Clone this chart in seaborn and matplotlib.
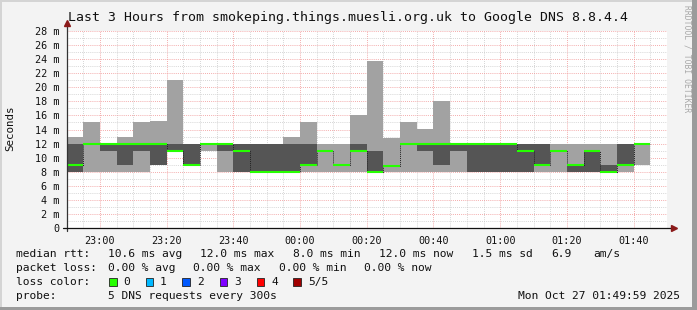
import numpy as np
import pandas as pd
import seaborn as sns
import matplotlib
matplotlib.use("Agg")
import matplotlib.pyplot as plt
from matplotlib.patches import Rectangle

# ---- data (ms), one entry per 5-minute step starting 22:50 ----
ping_min = [8, 8, 8, 8, 8, 9, 11, 9, 11, 8,
            8, 8, 8, 8, 8, 8, 8, 8, 8, 8,
            8, 8, 8, 8, 8, 8, 8, 8, 8, 8,
            8, 8, 8, 8, 9]
ping_lo = [8, 12, 11, 9, 11, 9, 11, 9, 12, 11,
           8, 8, 8, 8, 9, 11, 9, 11, 8, 8.8,
           12, 11, 9, 11, 8, 8, 8, 8, 9, 11,
           8, 8, 8, 9, 12]
median = [9, 12, 12, 12, 12, 12, 11, 9, 12, 12,
          11, 8, 8, 8, 9, 11, 9, 11, 8, 8.8,
          12, 12, 12, 12, 12, 12, 12, 11, 9, 11,
          9, 11, 8, 9, 12]
ping_hi = [12, 12, 12, 12, 12, 12, 12, 12, 12, 12,
           12, 12, 12, 12, 12, 11, 9, 12, 11, 8.8,
           12, 12, 12, 12, 12, 12, 12, 12, 12, 11,
           9, 11, 9, 12, 12]
ping_max = [13, 15, 12, 13, 15, 15.2, 21, 12, 12, 12,
            12, 12, 12, 13, 15, 12, 12, 16, 23.8, 12.8,
            15, 14.1, 18, 12, 12, 12, 12, 12, 12, 12,
            12, 12, 12, 12, 12]
tick_labels = ["23:00", "23:20", "23:40", "00:00", "00:20",
               "00:40", "01:00", "01:20", "01:40"]
loss_labels = ["0", "1", "2", "3", "4", "5/5"]
loss_colors = ["#26ff00", "#00b8ff", "#0059ff", "#7e00ff", "#ff0000", "#a00000"]

step_min = 5
df = pd.DataFrame({"start": np.arange(len(median)) * step_min,
                   "pmin": ping_min, "plo": ping_lo, "med": median,
                   "phi": ping_hi, "pmax": ping_max})

sns.set_style("white")
plt.rcParams["font.family"] = ["DejaVu Sans Mono"]

W, H = 697, 310
fig = plt.figure(figsize=(W / 100, H / 100), dpi=100)
fig.patch.set_facecolor("#f3f3f3")

def fx(px):
    return px / W

def fy(py):
    return 1 - py / H

left, right, top, bottom = 66.5, 667, 31, 228
ax = fig.add_axes([fx(left), fy(bottom), fx(right - left), (bottom - top) / H])
ax.set_facecolor("white")

# grid
ax.set_xlim(0, 180)
ax.set_ylim(0, 28)
ax.set_xticks(np.arange(10, 180, 20))
ax.set_xticklabels(tick_labels)
ax.set_xticks(np.arange(0, 180, 5), minor=True)
ax.set_yticks(np.arange(0, 29, 2))
ax.set_yticklabels(["0"] + [f"{v} m" for v in range(2, 29, 2)])
ax.set_yticks(np.arange(0, 29, 1), minor=True)
ax.grid(which="minor", color="#c8c8c8", linestyle=(0, (1, 1.5)), linewidth=0.6)
ax.grid(which="major", color="#f09090", linestyle=(0, (1, 1.5)), linewidth=0.6)
ax.set_axisbelow(True)

# smoke
ax.bar(df["start"], df["pmax"] - df["pmin"], bottom=df["pmin"], width=step_min,
       align="edge", color="#a2a2a2", linewidth=0, zorder=2)
ax.bar(df["start"], df["phi"] - df["plo"], bottom=df["plo"], width=step_min,
       align="edge", color="#555555", linewidth=0, zorder=3)

# median line
edges = np.append(df["start"].values, df["start"].values[-1] + step_min)
ax.step(edges, np.append(df["med"].values, df["med"].values[-1]), where="post",
        color="#222222", linewidth=0.7, linestyle=(0, (1, 1)), zorder=4)
ax.hlines(df["med"], df["start"], df["start"] + step_min, color=loss_colors[0],
          linewidth=1.5, zorder=5)

# axes styling
for s in ["top", "right", "left", "bottom"]:
    ax.spines[s].set_visible(False)
ax.tick_params(axis="both", which="major", labelsize=7.3, length=2, width=0.6,
               color="#333333", pad=3, direction="out", labelcolor="#111111")
ax.tick_params(axis="both", which="minor", length=0)
ax.tick_params(axis="x", pad=4)

# axis lines with arrows (in axes fraction)
ax.plot([0, 0], [-0.015, 1 + 7 / 197], transform=ax.transAxes, color="#333333",
        lw=0.9, clip_on=False, zorder=6)
ax.plot([-0.006, 1 + 5 / 600.5], [0, 0], transform=ax.transAxes, color="#111111",
        lw=0.9, clip_on=False, zorder=6)
ax.plot([0], [1 + 8 / 197], marker="^", markersize=4.5, color="#8b1a1a",
        transform=ax.transAxes, clip_on=False, zorder=7)
ax.plot([1 + 7 / 600.5], [0], marker=">", markersize=4.5, color="#8b1a1a",
        transform=ax.transAxes, clip_on=False, zorder=7)

# texts
fig.text(fx(348), fy(18), "Last 3 Hours from smokeping.things.muesli.org.uk to Google DNS 8.8.4.4",
         ha="center", va="center", fontsize=9.55, color="#111111")
fig.text(fx(10), fy(128), "Seconds", rotation=90, ha="center", va="center",
         fontsize=7.8, color="#111111")
fig.text(fx(687), fy(5), "RRDTOOL / TOBI OETIKER", rotation=270, ha="center",
         va="top", fontsize=5.8, color="#a8a8a8")

fs = 8.1
tc = "#111111"
rows = [
    (254, [(16.4, "median rtt:"), (107.6, "10.6 ms avg"), (200, "12.0 ms max"),
           (293, "8.0 ms min"), (379, "12.0 ms now"), (472, "1.5 ms sd"),
           (551, "6.9"), (593, "am/s")]),
    (268, [(16.4, "packet loss:"), (107.6, "0.00 % avg"), (193, "0.00 % max"),
           (279, "0.00 % min"), (364, "0.00 % now")]),
    (282, [(16.4, "loss color:")]),
    (296, [(16.4, "probe:"), (107.6, "5 DNS requests every 300s")]),
]
for yy, items in rows:
    for xx, s in items:
        fig.text(fx(xx), fy(yy), s, ha="left", va="center", fontsize=fs, color=tc)
fig.text(fx(680), fy(296), "Mon Oct 27 01:49:59 2025", ha="right", va="center",
         fontsize=fs, color=tc)

box_x = [109, 145.5, 182, 219.5, 256.5, 293]
lab_x = [123.5, 160, 197, 234, 271, 308]
for bx, lx, c, lab in zip(box_x, lab_x, loss_colors, loss_labels):
    fig.patches.append(Rectangle((fx(bx), fy(286)), 7.5 / W, 8 / H,
                                 transform=fig.transFigure, facecolor=c,
                                 edgecolor="#222222", linewidth=0.6))
    fig.text(fx(lx), fy(282), lab, ha="left", va="center", fontsize=fs, color=tc)

# frame (3D look)
fig.patches.append(Rectangle((0, fy(2)), 1, 2 / H, transform=fig.transFigure,
                             facecolor="#d4d4d4", edgecolor="none"))
fig.patches.append(Rectangle((0, 0), 2 / W, 1, transform=fig.transFigure,
                             facecolor="#d4d4d4", edgecolor="none"))
fig.patches.append(Rectangle((0, 0), 1, 3 / H, transform=fig.transFigure,
                             facecolor="#9b9b9b", edgecolor="none"))
fig.patches.append(Rectangle((fx(692), 0), 5 / W, 1, transform=fig.transFigure,
                             facecolor="#9b9b9b", edgecolor="none"))

fig.savefig("out.png", dpi=100, facecolor=fig.get_facecolor())
